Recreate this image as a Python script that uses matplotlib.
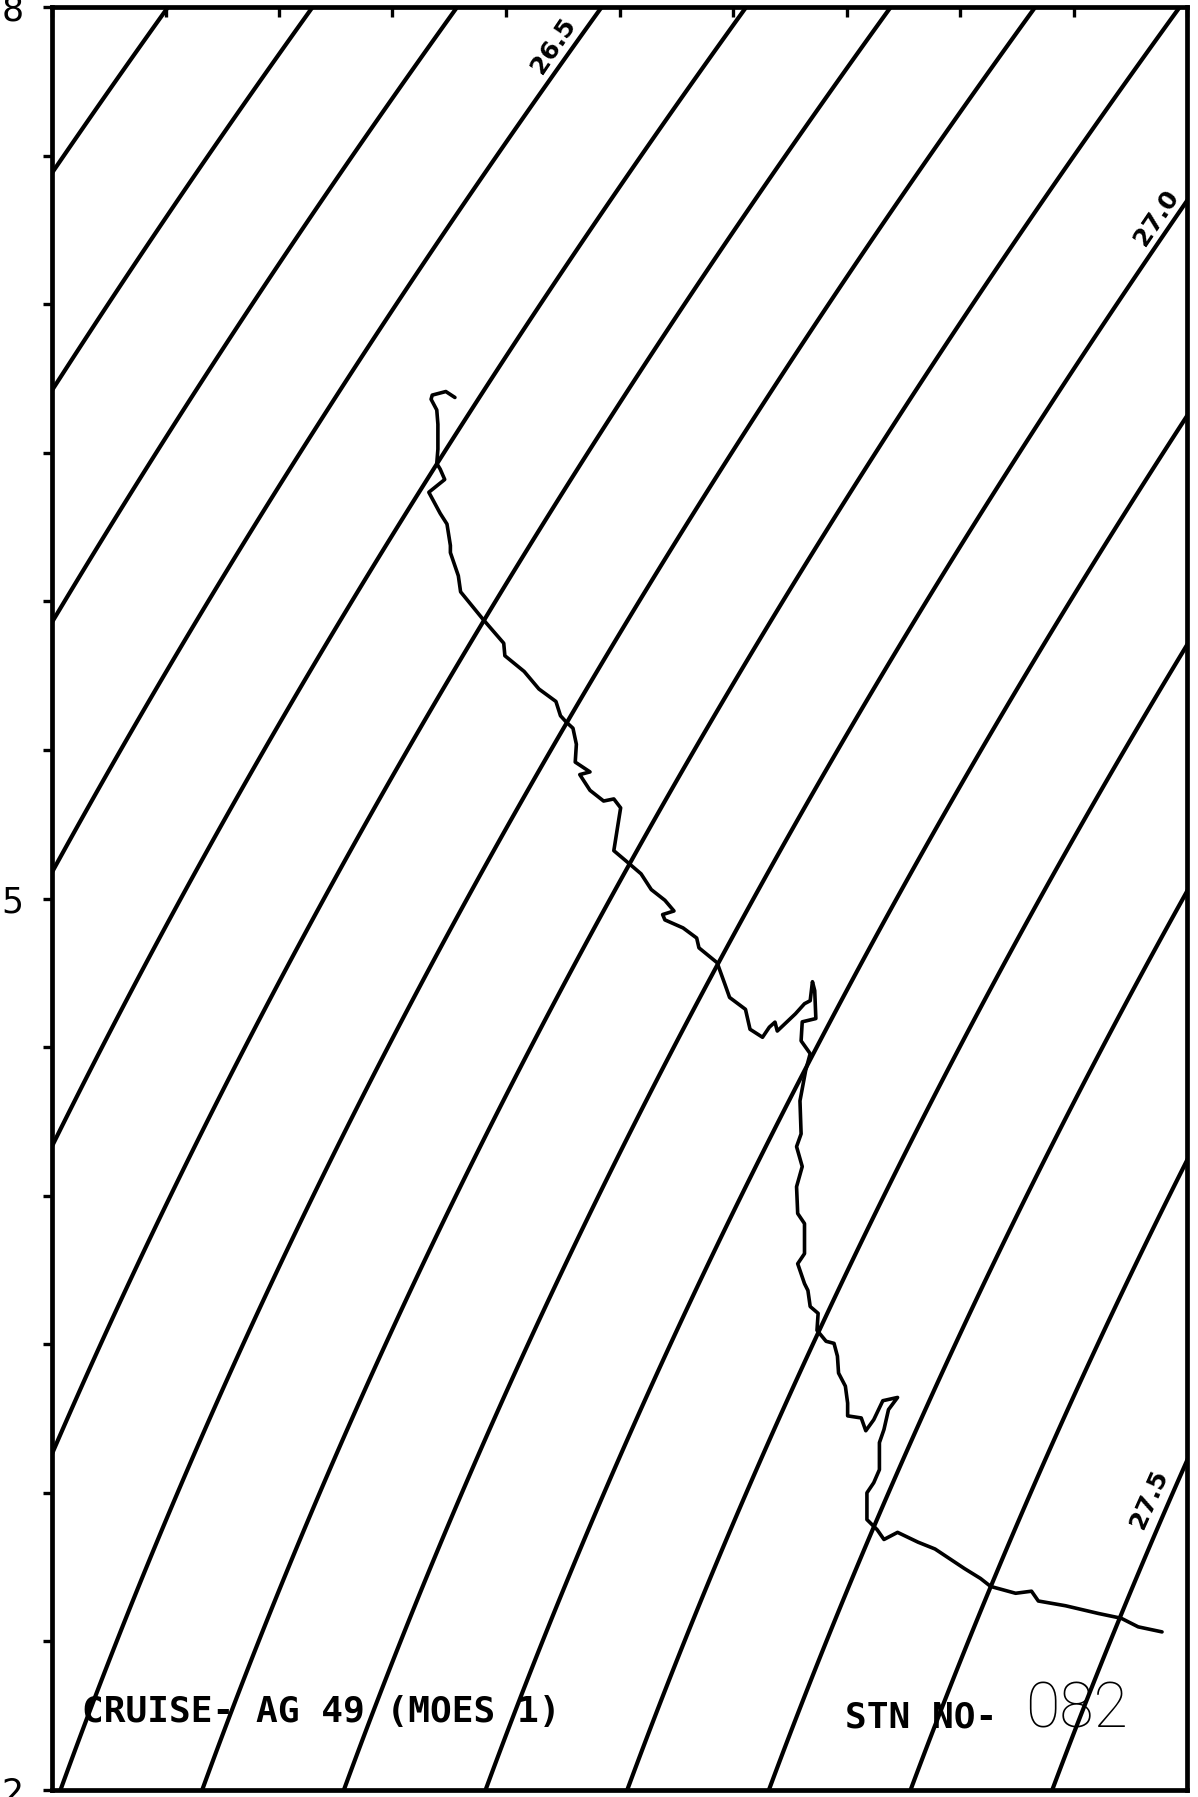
import numpy as np
import matplotlib
matplotlib.use("Agg")
import matplotlib.pyplot as plt

# ---------------- data ----------------
sal_profile = [
    33.885, 33.877, 33.865, 33.864, 33.869, 33.870, 33.870, 33.869, 33.872, 33.876,
    33.862, 33.872, 33.878, 33.881, 33.881, 33.888, 33.890, 33.909, 33.928, 33.929,
    33.946, 33.959, 33.974, 33.978, 33.983, 33.989, 33.992, 33.991, 34.004, 33.995,
    34.004, 34.016, 34.025, 34.031, 34.028, 34.025, 34.038, 34.049, 34.058, 34.070,
    34.078, 34.068, 34.070, 34.086, 34.098, 34.100, 34.116, 34.123, 34.127, 34.141,
    34.145, 34.156, 34.162, 34.167, 34.169, 34.185, 34.193, 34.198, 34.200, 34.202,
    34.203, 34.191, 34.190, 34.198, 34.194, 34.189, 34.190, 34.186, 34.191, 34.186,
    34.187, 34.193, 34.193, 34.187, 34.193, 34.196, 34.198, 34.205, 34.204, 34.212,
    34.219, 34.222, 34.223, 34.229, 34.231, 34.231, 34.243, 34.247, 34.254, 34.262,
    34.275, 34.267, 34.263, 34.259, 34.259, 34.254, 34.248, 34.248, 34.257, 34.263,
    34.275, 34.293, 34.308, 34.334, 34.348, 34.357, 34.379, 34.393, 34.399, 34.423,
    34.452, 34.472, 34.487, 34.508,
]
temp_profile = [
    6.686, 6.706, 6.694, 6.680, 6.644, 6.596, 6.512, 6.464, 6.445, 6.410,
    6.367, 6.296, 6.260, 6.188, 6.164, 6.086, 6.032, 5.943, 5.859, 5.817,
    5.764, 5.705, 5.663, 5.615, 5.594, 5.573, 5.519, 5.459, 5.426, 5.417,
    5.364, 5.328, 5.335, 5.305, 5.233, 5.161, 5.119, 5.083, 5.030, 4.994,
    4.958, 4.946, 4.928, 4.901, 4.867, 4.834, 4.784, 4.710, 4.667, 4.627,
    4.560, 4.533, 4.567, 4.584, 4.554, 4.612, 4.646, 4.656, 4.720, 4.690,
    4.596, 4.585, 4.521, 4.478, 4.421, 4.319, 4.208, 4.165, 4.098, 4.030,
    3.940, 3.906, 3.805, 3.771, 3.704, 3.681, 3.627, 3.604, 3.547, 3.510,
    3.503, 3.460, 3.403, 3.359, 3.302, 3.259, 3.252, 3.209, 3.246, 3.310,
    3.321, 3.280, 3.213, 3.169, 3.078, 3.034, 3.000, 2.910, 2.876, 2.843,
    2.867, 2.834, 2.811, 2.745, 2.712, 2.685, 2.662, 2.669, 2.636, 2.620,
    2.594, 2.578, 2.549, 2.532,
]

sigma_levels = [26.2, 26.3, 26.4, 26.5, 26.6, 26.7, 26.8, 26.9, 27.0,
                27.1, 27.2, 27.3, 27.4, 27.5]
label_texts = ["26.5", "27.0", "27.5"]
label_sal = [33.972, 34.503, 34.497]
label_temp = [7.870, 7.290, 2.980]
label_rot = [56, 56, 66]

sal_limits = (33.53, 34.53)
temp_limits = (2.0, 8.0)
sal_ticks = [33.53 + 0.1 * k for k in range(11)]
temp_ticks = [2.0, 2.5, 3.0, 3.5, 4.0, 4.5, 5.0, 5.5, 6.0, 6.5, 7.0, 7.5, 8.0]
temp_ticklabels = ["2", "", "", "", "", "", "5", "", "", "", "", "", "8"]

cruise_text = "CRUISE- AG 49 (MOES 1)"
stn_text = "STN NO-"
stn_number = "082"


# ---------------- sigma-t (UNESCO 1980, p = 0) ----------------
def sigma_t(S, T):
    rho_w = (999.842594 + 6.793952e-2 * T - 9.095290e-3 * T**2
             + 1.001685e-4 * T**3 - 1.120083e-6 * T**4 + 6.536332e-9 * T**5)
    A = (8.24493e-1 - 4.0899e-3 * T + 7.6438e-5 * T**2
         - 8.2467e-7 * T**3 + 5.3875e-9 * T**4)
    B = -5.72466e-3 + 1.0227e-4 * T - 1.6546e-6 * T**2
    C = 4.8314e-4
    return rho_w + A * S + B * S**1.5 + C * S**2 - 1000.0


W, H = 1198, 1797
fig = plt.figure(figsize=(W / 100, H / 100), dpi=100)
ax = fig.add_axes([52 / W, (H - 1790) / H, 1135 / W, 1783 / H])

Sg, Tg = np.meshgrid(np.linspace(33.3, 34.8, 400), np.linspace(1.5, 8.5, 400))
ax.contour(Sg, Tg, sigma_t(Sg, Tg), levels=sigma_levels,
           colors="black", linewidths=3.0)

ax.plot(sal_profile, temp_profile, color="black", lw=2.6,
        solid_joinstyle="round", solid_capstyle="round")

for txt, s, t, r in zip(label_texts, label_sal, label_temp, label_rot):
    ax.text(s, t, txt, rotation=r, ha="center", va="center",
            fontsize=18, fontweight="bold", family="DejaVu Sans")

ax.set_xlim(*sal_limits)
ax.set_ylim(*temp_limits)

ax.xaxis.tick_top()
ax.set_xticks(sal_ticks)
ax.set_xticklabels([])
ax.tick_params(axis="x", which="both", direction="in", length=7, width=2.4,
               top=True, bottom=False)
ax.set_yticks(temp_ticks)
ax.set_yticklabels(temp_ticklabels)
ax.tick_params(axis="y", which="both", direction="out", length=6.5, width=2.4,
               pad=14, labelsize=25, left=True, right=False)

for sp in ax.spines.values():
    sp.set_linewidth(3.4)

ax.text(0.026, 0.038, cruise_text, transform=ax.transAxes, ha="left",
        va="baseline", fontsize=26, family="DejaVu Sans Mono",
        fontweight="bold")
ax.text(0.699, 0.035, stn_text, transform=ax.transAxes, ha="left",
        va="baseline", fontsize=26, family="DejaVu Sans Mono",
        fontweight="bold")
ax.text(0.857, 0.035, stn_number, transform=ax.transAxes, ha="left",
        va="baseline", fontsize=45, family="Roboto", fontweight="light")

fig.savefig("out.png", dpi=100, facecolor="white")
